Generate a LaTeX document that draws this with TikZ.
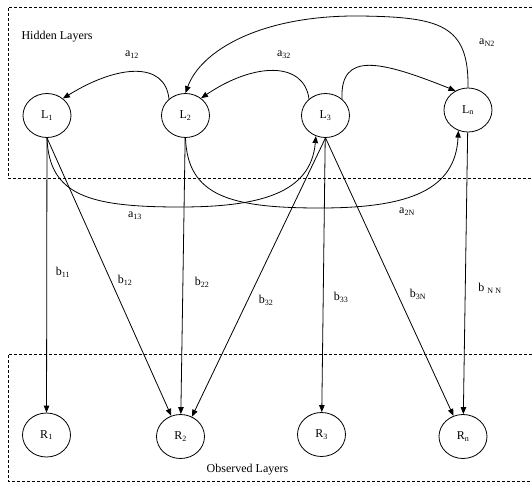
\documentclass[tikz,border=0pt]{standalone}
\usepackage{fontspec}
\setmainfont{Liberation Serif}
\usetikzlibrary{shapes.geometric,arrows.meta}
\newcommand\lsub[1]{\textsubscript{#1}}
\begin{document}
\begin{tikzpicture}[x=1pt,y=-1pt,
  every node/.style={font=\fontsize{12}{14}\selectfont},
  state/.style={ellipse,draw,line width=0.8pt,minimum width=48pt,minimum height=44pt,inner sep=0pt},
  conn/.style={line width=0.8pt,-{Triangle[length=7pt,width=5.5pt]}},
  lbl/.style={inner sep=1pt},
  layer/.style={dash pattern=on 3pt off 2pt,line width=0.8pt}]
\useasboundingbox (0,0) rectangle (532,482);
% layer frames
\draw[layer] (532,7) -- (8,7) -- (8,178) -- (532,178);
\draw[layer] (532,354) -- (8,354) -- (8,481) -- (532,481);
\node[anchor=base west] (hid) at (18,39) {Hidden Layers};
\node[anchor=base] (obs) at (247.5,472) {Observed Layers};
% nodes
\node[state] (L1) at (47,115.5) {L\lsub{1}};
\node[state] (L2) at (185.5,115.5) {L\lsub{2}};
\node[state] (L3) at (325.5,115.5) {L\lsub{3}};
\node[state] (Ln) at (468,110) {L\lsub{n}};
\node[state] (R1) at (46.5,435) {R\lsub{1}};
\node[state] (R2) at (180.5,436.5) {R\lsub{2}};
\node[state] (R3) at (321.5,434.5) {R\lsub{3}};
\node[state] (Rn) at (463,436.5) {R\lsub{n}};
\coordinate (topN2) at (360,16);
\coordinate (m13) at (180,207);
\coordinate (m2N) at (320,208);
% hidden transitions
\draw[conn] (L2.135) .. controls +(-4,-38) and +(55,-34) .. (L1.47);
\draw[conn] (L3.135) .. controls +(-5,-38) and +(53,-36) .. (L2.48);
\draw[conn] (L3.45) .. controls +(-2,-48) and +(-75,-30) .. (Ln.123);
\draw[conn] (Ln.north) .. controls +(1,-63) and +(80,1) .. (topN2)
   .. controls +(-100,-1) and +(15,-42) .. (L2.north);
\draw[conn] (L1.south) .. controls +(2,58) and +(-90,0) .. (m13)
   .. controls +(80,0) and +(-5,57) .. (L3.245);
\draw[conn] (L2.south) .. controls +(2,58) and +(-90,0) .. (m2N)
   .. controls +(90,0) and +(-3,59) .. (Ln.245);
% emissions
\draw[conn] (L1) -- (R1);
\draw[conn] (L1.south) -- (R2);
\draw[conn] (L2) -- (R2);
\draw[conn] (L3.south) -- (R2.60);
\draw[conn] (L3) -- (R3);
\draw[conn] (L3.south) -- (Rn);
\draw[conn] (Ln) -- (Rn);
% labels
\node[lbl] (la12) at (132,55) {a\lsub{12}};
\node[lbl] (la32) at (284,55) {a\lsub{32}};
\node[lbl] (laN2) at (487,43) {a\lsub{N2}};
\node[lbl] (la13) at (135,216) {a\lsub{13}};
\node[lbl] (la2N) at (407,212) {a\lsub{2N}};
\node[lbl] (lb11) at (63,272) {b\lsub{11}};
\node[lbl] (lb12) at (125,280) {b\lsub{12}};
\node[lbl] (lb22) at (202,282) {b\lsub{22}};
\node[lbl] (lb32) at (266,300) {b\lsub{32}};
\node[lbl] (lb33) at (341,297) {b\lsub{33}};
\node[lbl] (lb3N) at (418,294) {b\lsub{3N}};
\node[lbl] (lbNN) at (490,288) {b \lsub{N N}};
\end{tikzpicture}
\end{document}
